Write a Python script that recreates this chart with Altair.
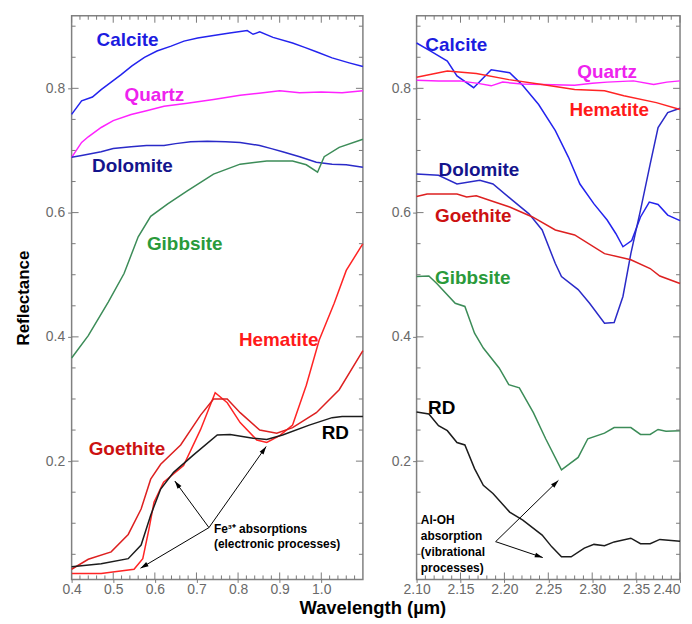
import math
import altair as alt
import pandas as pd

# ---------------- data: visible / NIR panel (0.4 - 1.1 um) ----------------
vis_calcite_x = [0.40, 0.424, 0.45, 0.471, 0.495, 0.519, 0.545, 0.575, 0.605, 0.639, 0.67, 0.703, 0.741, 0.78, 0.822, 0.836, 0.852, 0.884, 0.931, 0.96, 0.988, 1.026, 1.067, 1.10]
vis_calcite_y = [0.758, 0.780, 0.786, 0.798, 0.810, 0.822, 0.836, 0.850, 0.860, 0.868, 0.876, 0.881, 0.885, 0.889, 0.893, 0.887, 0.891, 0.882, 0.873, 0.866, 0.859, 0.849, 0.841, 0.835]

vis_quartz_x = [0.40, 0.424, 0.44, 0.471, 0.50, 0.543, 0.58, 0.622, 0.678, 0.741, 0.805, 0.85, 0.90, 0.948, 1.0, 1.05, 1.10]
vis_quartz_y = [0.689, 0.713, 0.722, 0.737, 0.748, 0.758, 0.764, 0.771, 0.776, 0.782, 0.789, 0.792, 0.796, 0.793, 0.794, 0.793, 0.796]

vis_dolomite_x = [0.40, 0.424, 0.471, 0.50, 0.543, 0.58, 0.622, 0.65, 0.686, 0.726, 0.77, 0.805, 0.852, 0.88, 0.907, 0.948, 0.988, 1.026, 1.06, 1.10]
vis_dolomite_y = [0.689, 0.692, 0.698, 0.703, 0.706, 0.708, 0.708, 0.711, 0.714, 0.715, 0.714, 0.713, 0.708, 0.703, 0.698, 0.690, 0.681, 0.678, 0.677, 0.673]

vis_gibbsite_x = [0.40, 0.44, 0.488, 0.526, 0.56, 0.59, 0.631, 0.678, 0.741, 0.805, 0.869, 0.931, 0.964, 0.991, 1.007, 1.043, 1.10]
vis_gibbsite_y = [0.366, 0.402, 0.456, 0.502, 0.561, 0.594, 0.614, 0.635, 0.662, 0.678, 0.683, 0.683, 0.677, 0.665, 0.690, 0.705, 0.718]

vis_hematite_x = [0.40, 0.471, 0.55, 0.571, 0.586, 0.598, 0.621, 0.669, 0.71, 0.745, 0.774, 0.805, 0.845, 0.869, 0.90, 0.931, 0.964, 0.995, 1.031, 1.06, 1.10]
vis_hematite_y = [0.019, 0.019, 0.026, 0.043, 0.091, 0.134, 0.166, 0.193, 0.251, 0.310, 0.294, 0.262, 0.234, 0.230, 0.241, 0.258, 0.322, 0.395, 0.454, 0.507, 0.550]

vis_goethite_x = [0.40, 0.44, 0.495, 0.536, 0.567, 0.59, 0.614, 0.662, 0.71, 0.741, 0.774, 0.805, 0.852, 0.893, 0.931, 0.988, 1.043, 1.10]
vis_goethite_y = [0.026, 0.042, 0.054, 0.082, 0.123, 0.171, 0.195, 0.226, 0.274, 0.300, 0.300, 0.278, 0.250, 0.245, 0.254, 0.278, 0.315, 0.378]

vis_rd_x = [0.40, 0.471, 0.536, 0.567, 0.59, 0.614, 0.645, 0.693, 0.75, 0.781, 0.836, 0.869, 0.907, 0.971, 1.026, 1.05, 1.10]
vis_rd_y = [0.030, 0.035, 0.043, 0.065, 0.113, 0.155, 0.182, 0.210, 0.242, 0.243, 0.237, 0.235, 0.242, 0.258, 0.270, 0.272, 0.272]

# ---------------- data: SWIR panel (2.10 - 2.40 um) ----------------
swir_calcite_x = [2.100, 2.116, 2.135, 2.146, 2.165, 2.185, 2.206, 2.22, 2.239, 2.258, 2.273, 2.286, 2.302, 2.317, 2.327, 2.335, 2.345, 2.355, 2.365, 2.375, 2.386, 2.40]
swir_calcite_y = [0.873, 0.860, 0.844, 0.820, 0.801, 0.830, 0.825, 0.806, 0.774, 0.732, 0.689, 0.646, 0.614, 0.588, 0.566, 0.545, 0.555, 0.593, 0.617, 0.613, 0.596, 0.587]

swir_quartz_x = [2.10, 2.125, 2.149, 2.170, 2.185, 2.198, 2.22, 2.243, 2.28, 2.30, 2.317, 2.347, 2.37, 2.385, 2.40]
swir_quartz_y = [0.813, 0.812, 0.812, 0.808, 0.804, 0.810, 0.807, 0.806, 0.805, 0.808, 0.810, 0.812, 0.806, 0.810, 0.812]

swir_hematite_x = [2.10, 2.135, 2.168, 2.205, 2.243, 2.28, 2.314, 2.336, 2.373, 2.40]
swir_hematite_y = [0.818, 0.828, 0.824, 0.814, 0.806, 0.798, 0.796, 0.788, 0.777, 0.766]

swir_dolomite_x = [2.10, 2.125, 2.146, 2.172, 2.187, 2.209, 2.228, 2.243, 2.258, 2.265, 2.284, 2.297, 2.314, 2.325, 2.335, 2.344, 2.355, 2.366, 2.375, 2.386, 2.40]
swir_dolomite_y = [0.662, 0.660, 0.646, 0.652, 0.646, 0.620, 0.598, 0.572, 0.518, 0.497, 0.476, 0.454, 0.422, 0.423, 0.465, 0.534, 0.604, 0.678, 0.737, 0.761, 0.768]

swir_goethite_x = [2.10, 2.112, 2.146, 2.157, 2.168, 2.183, 2.206, 2.232, 2.258, 2.28, 2.314, 2.344, 2.366, 2.377, 2.40]
swir_goethite_y = [0.626, 0.630, 0.630, 0.625, 0.627, 0.620, 0.609, 0.593, 0.572, 0.564, 0.534, 0.524, 0.510, 0.498, 0.486]

swir_gibbsite_x = [2.10, 2.114, 2.123, 2.144, 2.155, 2.166, 2.176, 2.194, 2.205, 2.217, 2.233, 2.247, 2.265, 2.284, 2.295, 2.314, 2.325, 2.344, 2.355, 2.366, 2.375, 2.384, 2.40]
swir_gibbsite_y = [0.497, 0.498, 0.486, 0.454, 0.449, 0.406, 0.382, 0.350, 0.323, 0.318, 0.278, 0.236, 0.186, 0.206, 0.236, 0.245, 0.254, 0.254, 0.243, 0.243, 0.251, 0.248, 0.249]

swir_rd_x = [2.10, 2.114, 2.125, 2.135, 2.146, 2.155, 2.166, 2.176, 2.187, 2.206, 2.221, 2.243, 2.254, 2.265, 2.276, 2.291, 2.302, 2.314, 2.325, 2.344, 2.355, 2.366, 2.377, 2.40]
swir_rd_y = [0.279, 0.276, 0.257, 0.249, 0.230, 0.226, 0.188, 0.161, 0.148, 0.118, 0.105, 0.081, 0.062, 0.046, 0.046, 0.060, 0.066, 0.064, 0.070, 0.076, 0.067, 0.067, 0.074, 0.071]

# ---------------- series labels ----------------
minerals = ["Calcite", "Quartz", "Dolomite", "Gibbsite", "Hematite", "Goethite", "RD"]
vis_label_x = [0.46, 0.527, 0.449, 0.581, 0.802, 0.441, 1.001]
vis_label_y = [0.877, 0.789, 0.675, 0.549, 0.395, 0.219, 0.245]
swir_label_x = [2.110, 2.283, 2.125, 2.121, 2.274, 2.121, 2.113]
swir_label_y = [0.869, 0.826, 0.669, 0.494, 0.765, 0.594, 0.286]

# ---------------- annotations ----------------
vis_note_lines = ["Fe³⁺ absorptions", "(electronic processes)"]
vis_note_x = [0.742, 0.742]
vis_note_y = [0.091, 0.067]
vis_arrow_from = (0.730, 0.093)
vis_arrow_to_x = [0.648, 0.8675, 0.5656]
vis_arrow_to_y = [0.168, 0.2235, 0.0277]

swir_note_lines = ["Al-OH", "absorption", "(vibrational", "processes)"]
swir_note_x = [2.1048, 2.1048, 2.1048, 2.1048]
swir_note_y = [0.1056, 0.0795, 0.0544, 0.0277]
swir_arrow_from = (2.190, 0.0704)
swir_arrow_to_x = [2.2615, 2.2437]
swir_arrow_to_y = [0.169, 0.0448]

# ---------------- axis tick values ----------------
vis_major = [0.4, 0.5, 0.6, 0.7, 0.8, 0.9, 1.0]
vis_minor = [0.42, 0.44, 0.46, 0.48, 0.52, 0.54, 0.56, 0.58, 0.62, 0.64, 0.66, 0.68,
             0.72, 0.74, 0.76, 0.78, 0.82, 0.84, 0.86, 0.88, 0.92, 0.94, 0.96, 0.98,
             1.02, 1.04, 1.06, 1.08]
swir_major = [2.10, 2.15, 2.20, 2.25, 2.30, 2.35, 2.40]
swir_minor = [2.11, 2.12, 2.13, 2.14, 2.16, 2.17, 2.18, 2.19, 2.21, 2.22, 2.23, 2.24,
              2.26, 2.27, 2.28, 2.29, 2.31, 2.32, 2.33, 2.34, 2.36, 2.37, 2.38, 2.39]
y_major = [0.2, 0.4, 0.6, 0.8]
y_minor = [0.05, 0.1, 0.15, 0.25, 0.3, 0.35, 0.45, 0.5, 0.55, 0.65, 0.7, 0.75, 0.85, 0.9]

# ---------------- styles ----------------
LINE_COLORS = ["#2323ee", "#ff22ff", "#2a2ac8", "#3c8c58", "#ff2424", "#dd2020", "#1c1c1c"]
LABEL_COLORS = ["#1c1ce0", "#ee22ee", "#14148c", "#2a9a3a", "#ff1a1a", "#cc1111", "#000000"]
Y_DOMAIN = [0.0096, 0.9168]
HEIGHT = 567
AXIS_GRAY = "#7a7a7a"
LABEL_GRAY = "#6a6a6a"
FONT = "Liberation Sans"
MAJOR_LEN = 7
MINOR_LEN = 4


def long_table(series, xdom, width, xmajor, xminor):
    """Spectra plus short frame tick segments (two-point line pieces)."""
    rows = []
    for name, xs, ys in series:
        for i, (x, y) in enumerate(zip(xs, ys)):
            rows.append({"kind": name, "seg": name, "x": x, "y": y, "i": i, "w": 1.5})
    kx = width / (xdom[1] - xdom[0])
    ky = HEIGHT / (Y_DOMAIN[1] - Y_DOMAIN[0])
    k = 0
    for vals, ln in ((xmajor, MAJOR_LEN), (xminor, MINOR_LEN)):
        for v in vals:
            for y0, y1 in ((Y_DOMAIN[0], Y_DOMAIN[0] + ln / ky), (Y_DOMAIN[1], Y_DOMAIN[1] - ln / ky)):
                rows.append({"kind": "tick", "seg": f"t{k}", "x": v, "y": y0, "i": 0, "w": 1})
                rows.append({"kind": "tick", "seg": f"t{k}", "x": v, "y": y1, "i": 1, "w": 1})
                k += 1
    for vals, ln in ((y_major, MAJOR_LEN), (y_minor, MINOR_LEN)):
        for v in vals:
            for x0, x1 in ((xdom[0], xdom[0] + ln / kx), (xdom[1], xdom[1] - ln / kx)):
                rows.append({"kind": "tick", "seg": f"t{k}", "x": x0, "y": v, "i": 0, "w": 1})
                rows.append({"kind": "tick", "seg": f"t{k}", "x": x1, "y": v, "i": 1, "w": 1})
                k += 1
    return pd.DataFrame(rows)


def make_panel(series, lab_x, lab_y, note_lines, note_x, note_y, arr_from, arr_to_x, arr_to_y,
               xdom, width, xmajor, xminor, xfmt, ylabpad, is_left):
    lines_df = long_table(series, xdom, width, xmajor, xminor)
    labels_df = pd.DataFrame({"name": minerals, "x": lab_x, "y": lab_y, "c": LABEL_COLORS})
    notes_df = pd.DataFrame({"t": note_lines, "x": note_x, "y": note_y})
    kx = width / (xdom[1] - xdom[0])
    ky = HEIGHT / (Y_DOMAIN[1] - Y_DOMAIN[0])
    angles = []
    for tx, ty in zip(arr_to_x, arr_to_y):
        dx = (tx - arr_from[0]) * kx
        dys = -(ty - arr_from[1]) * ky
        angles.append((math.degrees(math.atan2(dx, -dys)) + 360) % 360)
    n = len(arr_to_x)
    rules_df = pd.DataFrame({"x": [arr_from[0]] * n, "y": [arr_from[1]] * n,
                             "x2": arr_to_x, "y2": arr_to_y})
    heads_df = pd.DataFrame({"x": arr_to_x, "y": arr_to_y, "ang": angles})

    xs = alt.Scale(domain=xdom, nice=False, zero=False)
    ys = alt.Scale(domain=Y_DOMAIN, nice=False, zero=False)

    common = dict(domain=False, grid=False, ticks=True, tickColor=AXIS_GRAY, tickWidth=1,
                  labelFontSize=14, labelColor=LABEL_GRAY, labelFont=FONT)
    if is_left:
        x_axis = alt.Axis(orient="bottom", values=xmajor, format=xfmt, tickSize=3, labelPadding=0,
                          labelFlush=False,
                          title="Wavelength (µm)", titleFontSize=18.5, titleFontWeight="bold",
                          titleColor="black", titleFont=FONT, titleX=302.5, titlePadding=2, **common)
        y_axis = alt.Axis(orient="left", values=y_major, format=".1f", tickSize=4,
                          labelPadding=ylabpad - 4,
                          title="Reflectance", titleFontSize=17, titleFontWeight="bold",
                          titleColor="black", titleFont=FONT, titlePadding=13, **common)
    else:
        x_axis = alt.Axis(orient="bottom", values=xmajor, format=xfmt, tickSize=3, labelPadding=0,
                          labelFlush=False,
                          labelAlign={"condition": {"test": "datum.value >= 2.395", "value": "right"},
                                      "value": "center"},
                          title=None, **common)
        y_axis = alt.Axis(orient="left", values=y_major, format=".1f", tickSize=4,
                          labelPadding=ylabpad - 4, title=None, **common)

    X = alt.X("x:Q", scale=xs, axis=x_axis)
    Y = alt.Y("y:Q", scale=ys, axis=y_axis)

    layers = [
        alt.Chart(lines_df).mark_line().encode(
            x=X, y=Y,
            color=alt.Color("kind:N", scale=alt.Scale(domain=minerals + ["tick"],
                                                      range=LINE_COLORS + [AXIS_GRAY]), legend=None),
            detail="seg:N",
            strokeWidth=alt.StrokeWidth("w:Q", scale=None),
            order="i:Q",
        ),
        alt.Chart(labels_df).mark_text(align="left", baseline="middle", fontSize=19,
                                       fontWeight="bold", font=FONT).encode(
            x=X, y=Y, text="name:N", color=alt.Color("c:N", scale=None),
        ),
        alt.Chart(rules_df).mark_rule(color="black", strokeWidth=1).encode(
            x=X, y=Y, x2="x2:Q", y2="y2:Q",
        ),
        alt.Chart(heads_df).mark_point(shape="M0,0L-0.6,2L0.6,2Z", filled=True, size=64,
                                       color="black", opacity=1, strokeWidth=0).encode(
            x=X, y=Y, angle=alt.Angle("ang:Q", scale=None),
        ),
        alt.Chart(notes_df).mark_text(align="left", baseline="middle", fontSize=12,
                                      fontWeight="bold", font=FONT, color="black").encode(
            x=X, y=Y, text="t:N",
        ),
    ]
    return alt.layer(*layers).properties(width=width, height=HEIGHT)


vis_series = [
    ("Calcite", vis_calcite_x, vis_calcite_y),
    ("Quartz", vis_quartz_x, vis_quartz_y),
    ("Dolomite", vis_dolomite_x, vis_dolomite_y),
    ("Gibbsite", vis_gibbsite_x, vis_gibbsite_y),
    ("Hematite", vis_hematite_x, vis_hematite_y),
    ("Goethite", vis_goethite_x, vis_goethite_y),
    ("RD", vis_rd_x, vis_rd_y),
]
swir_series = [
    ("Calcite", swir_calcite_x, swir_calcite_y),
    ("Quartz", swir_quartz_x, swir_quartz_y),
    ("Dolomite", swir_dolomite_x, swir_dolomite_y),
    ("Gibbsite", swir_gibbsite_x, swir_gibbsite_y),
    ("Hematite", swir_hematite_x, swir_hematite_y),
    ("Goethite", swir_goethite_x, swir_goethite_y),
    ("RD", swir_rd_x, swir_rd_y),
]

left = make_panel(vis_series, vis_label_x, vis_label_y, vis_note_lines, vis_note_x, vis_note_y,
                  vis_arrow_from, vis_arrow_to_x, vis_arrow_to_y,
                  [0.4, 1.1], 293, vis_major, vis_minor, ".1f", 7, True)
right = make_panel(swir_series, swir_label_x, swir_label_y, swir_note_lines, swir_note_x, swir_note_y,
                   swir_arrow_from, swir_arrow_to_x, swir_arrow_to_y,
                   [2.10, 2.40], 265, swir_major, swir_minor, ".2f", 6, False)

chart = alt.hconcat(left, right, spacing=54, bounds="flush").properties(
    padding={"left": 5, "top": 3, "right": 0, "bottom": 0}
).configure(font=FONT).configure_view(stroke="#808080", strokeWidth=1.5)

chart.save("out.html", embed_options={"renderer": "svg", "actions": False})
